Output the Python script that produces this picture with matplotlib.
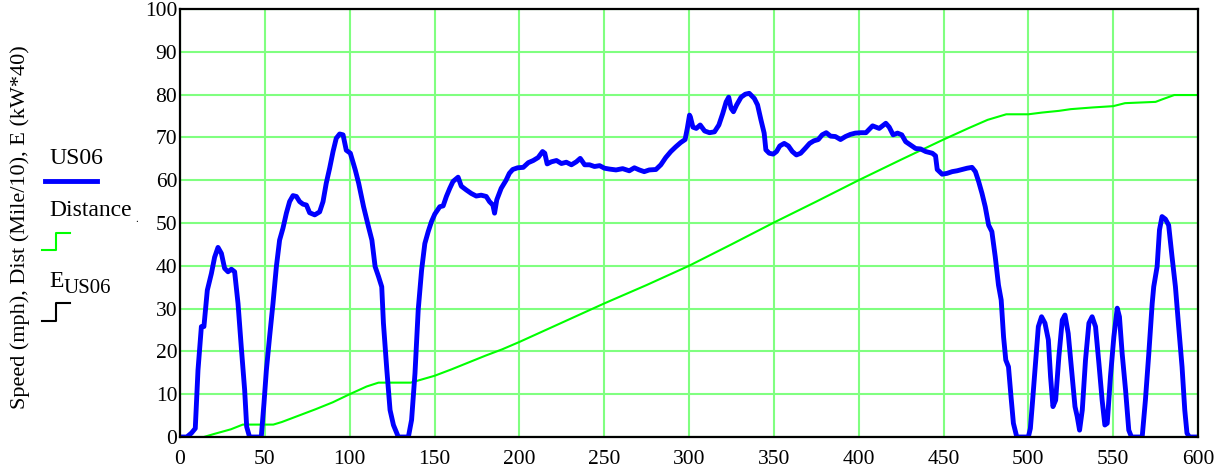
import matplotlib.pyplot as plt
from matplotlib.lines import Line2D

# US06 speed trace (mph)
t_speed = [0, 4, 6.7, 9, 10.6, 12.6, 14.1, 16.1, 18.5, 20.4, 22.4, 24.4, 26.3, 28.3, 30.3, 32.2,
           34.2, 36.1, 38.1, 39.3, 41, 47.9, 49.5, 50.9, 52.8, 54.8, 56.8, 58.7, 60.7, 62.7, 64.6,
           66.6, 68.6, 70.5, 72.5, 74.5, 76.4, 79.4, 82.3, 84.3, 86.2, 88.2, 90.2, 92.1, 94.1, 96.1,
           98, 100.4, 103.3, 105.3, 108.2, 111.1, 113.1, 115, 117, 118.9, 119.9, 121.9, 123.8, 125.8,
           128.7, 134.6, 136.5, 138.5, 140.4, 142.4, 144.3, 146.3, 148.2, 150.2, 153.1, 155.1, 157,
           159, 160.9, 163.9, 165.8, 168.8, 171.7, 174.6, 177.5, 180.5, 182.4, 184.4, 185.4, 186.7,
           189.3, 192.2, 194.1, 196.1, 199, 202.3, 205.3, 208.2, 211.1, 213.7, 215, 216.4, 218.9,
           221.9, 224.8, 227.7, 230.7, 233.6, 235.9, 238.5, 241.4, 244.3, 247.3, 250.2, 253.1, 257,
           260.9, 264.8, 267.8, 270.7, 273.6, 276.6, 280.5, 283.4, 286.3, 289.3, 292.2, 295.1, 297.7,
           299, 300.3, 300.8, 302.3, 304.3, 306.6, 309.2, 312.1, 315, 317.6, 319.9, 321.9, 323.4,
           324.8, 326.2, 328.1, 330.7, 333.2, 335.5, 338.5, 340.4, 342.4, 344.3, 345.3, 347.3, 349.6,
           351.6, 353.5, 356.1, 358.6, 360.9, 363.3, 365.8, 368.4, 371.1, 373.6, 376.2, 378.5, 380.9,
           383.4, 386.3, 389.3, 392.2, 395.1, 398, 401.4, 404.3, 408.2, 412.1, 416, 418, 420.3, 422.9,
           425.4, 427.7, 430.7, 433.6, 436.5, 439.5, 443.4, 445.3, 446.3, 449.2, 452.1, 455.1, 458,
           460.9, 463.9, 466.8, 468.8, 470.7, 472.7, 474.6, 476.6, 478.5, 480.5, 482.4, 484, 485.4,
           486.7, 488.3, 489.8, 491.2, 493.2, 500, 501.2, 502.4, 503.9, 505.9, 507.8, 509.8, 511.8,
           513.1, 514.5, 516.1, 518, 520, 521.6, 523.5, 525.5, 527.5, 528.8, 530.2, 531.8, 533.7,
           535.7, 537.6, 539.6, 541.6, 543.5, 545.1, 546.5, 548.4, 550.4, 552.4, 553.7, 555.3, 557.3,
           559.2, 560.8, 567.1, 569, 571, 573, 573.9, 575.9, 577.3, 578.8, 580.8, 582.7, 584.7, 586.7,
           588.6, 590.6, 592.2, 593.5, 594.9, 600]
speed = [0, 0, 0.9, 2, 15.6, 25.8, 25.8, 34.3, 38.2, 42, 44.3, 42.9, 39.4, 38.6, 39.2, 38.6,
         31.2, 21.1, 11, 2.4, 0, 0, 7.9, 15.6, 23.4, 31.2, 39.8, 46, 48.8, 52.3, 55,
         56.4, 56.2, 55, 54.4, 54.2, 52.4, 51.9, 52.6, 55, 59.3, 62.8, 66.7, 69.8, 70.8, 70.6,
         67, 66.3, 62.4, 59.3, 53.8, 49.1, 46, 39.8, 37.5, 35.1, 26.6, 15.7, 6.3, 2.8,
         0, 0, 4, 14.9, 29.7, 39, 45.2, 48, 50.3, 52.1, 53.8, 54, 56.2,
         58.1, 59.7, 60.7, 58.6, 57.7, 56.9, 56.3, 56.5, 56.2, 55, 54.2, 52.3, 55.4,
         58.1, 60, 61.6, 62.5, 62.9, 63, 64.1, 64.6, 65.3, 66.7, 66.3, 63.8, 64.3,
         64.6, 63.9, 64.2, 63.6, 64.3, 65.1, 63.6, 63.6, 63.2, 63.4, 62.8, 62.6, 62.4,
         62.7, 62.2, 62.9, 62.4, 62, 62.4, 62.5, 63.6, 65.3, 66.7, 67.8, 68.8, 69.5,
         72.1, 75.2, 74.8, 72.4, 72.1, 72.9, 71.5, 71.1, 71.3, 72.9, 75.6, 78.3, 79.4,
         76.8, 76, 77.6, 79.4, 80.1, 80.3, 79.1, 77.6, 74.1, 71, 67.1, 66.3, 66.1,
         66.7, 68, 68.6, 68, 66.7, 65.9, 66.3, 67.4, 68.6, 69.2, 69.5, 70.6, 71.1,
         70.3, 70.2, 69.5, 70.2, 70.7, 71, 71.1, 71.1, 72.7, 72.1, 73.3, 72.4, 70.6, 71,
         70.6, 69, 68.2, 67.4, 67.3, 66.7, 66.3, 65.7, 62.5, 61.4, 61.6, 62, 62.2,
         62.5, 62.8, 63, 62, 59.7, 56.9, 53.8, 49.5, 48, 42.1, 35.5, 32, 23.4,
         18, 16.4, 9.4, 3.2, 0, 0, 2, 7.9, 15.7, 25.8, 28.1, 26.6, 22.7,
         14.1, 7.1, 8.6, 18.8, 27.3, 28.5, 24.2, 15.7, 7.1, 4.8, 1.6, 6.3, 18,
         26.6, 28.1, 25.8, 17.2, 8.6, 2.8, 3.2, 14.1, 23.4, 30.1, 28.1, 19.5, 11,
         1.6, 0, 0, 8.6, 19.5, 31.2, 35.1, 39.8, 48.4, 51.5, 50.9, 49.5, 42.1, 35.1,
         25.8, 16.4, 6.3, 0.9, 0, 0]

# cumulative distance (mile/10)
t_dist = [0, 14, 20, 30, 37, 55, 60, 70, 80, 90, 100, 110, 117, 136, 150, 160, 170, 180, 190,
          200, 225, 250, 275, 300, 325, 350, 375, 400, 425, 450, 465, 476, 487, 500, 508, 518,
          525, 538, 550, 557, 575, 579, 586, 600]
dist = [0, 0, 0.7, 1.8, 2.9, 2.9, 3.5, 5.0, 6.5, 8.1, 10.0, 11.8, 12.7, 12.7, 14.3, 15.8, 17.4,
        19.0, 20.5, 22.2, 26.7, 31.2, 35.5, 40.0, 45.0, 50.1, 55.0, 60.0, 64.8, 69.5, 72.2, 74.1,
        75.4, 75.4, 75.8, 76.2, 76.6, 77.0, 77.3, 78.0, 78.3, 78.9, 79.9, 79.9]

x_ticks = list(range(0, 601, 50))
y_ticks = list(range(0, 101, 10))

plt.rcParams['font.family'] = ['Liberation Serif', 'DejaVu Serif']
FS = 15.5
FS_LEG = 17

fig = plt.figure(figsize=(12.27, 4.67), dpi=100)
ax = fig.add_axes([180 / 1227, 30 / 467, 1018 / 1227, 428 / 467])

ax.plot(t_dist, dist, color='#00ff00', lw=1.5, zorder=3)
ax.plot(t_speed, speed, color='#0000ff', lw=3.5, zorder=4,
        solid_joinstyle='round', solid_capstyle='round')

ax.set_xlim(0, 600)
ax.set_ylim(0, 100)
ax.set_xticks(x_ticks)
ax.set_yticks(y_ticks)
ax.grid(True, color='#80ff80', lw=1.5, zorder=1)
ax.tick_params(length=0, labelsize=FS)
ax.tick_params(axis='x', pad=9)
ax.tick_params(axis='y', pad=2)
for s in ax.spines.values():
    s.set_linewidth(1.6)
    s.set_zorder(5)

fig.text(20 / 1227, 1 - 227 / 467, 'Speed (mph), Dist (Mile/10), E (kW*40)',
         rotation=90, ha='center', va='center', fontsize=16)

# legend drawn by hand, left of the plot
def fy(y):
    return 1 - y / 467

def fx(x):
    return x / 1227

fig.text(fx(49), fy(159), 'US06', fontsize=FS_LEG, va='center')
fig.add_artist(Line2D([fx(45), fx(97)], [fy(181), fy(181)], color='#0000ff', lw=3.5))
fig.text(fx(49), fy(210), 'Distance', fontsize=FS_LEG, va='center')
fig.text(fx(135), fy(219), '.', fontsize=8, va='center')
fig.add_artist(Line2D([fx(42), fx(56), fx(56), fx(70)], [fy(250), fy(250), fy(233), fy(233)],
                      color='#00ff00', lw=1.5))
fig.text(fx(49), fy(287), 'E', fontsize=FS_LEG, va='baseline')
fig.text(fx(64), fy(293), 'US06', fontsize=15, va='baseline')
fig.add_artist(Line2D([fx(42), fx(56), fx(56), fx(70)], [fy(321), fy(321), fy(303), fy(303)],
                      color='black', lw=1.5))

fig.savefig('out.png', dpi=100)
